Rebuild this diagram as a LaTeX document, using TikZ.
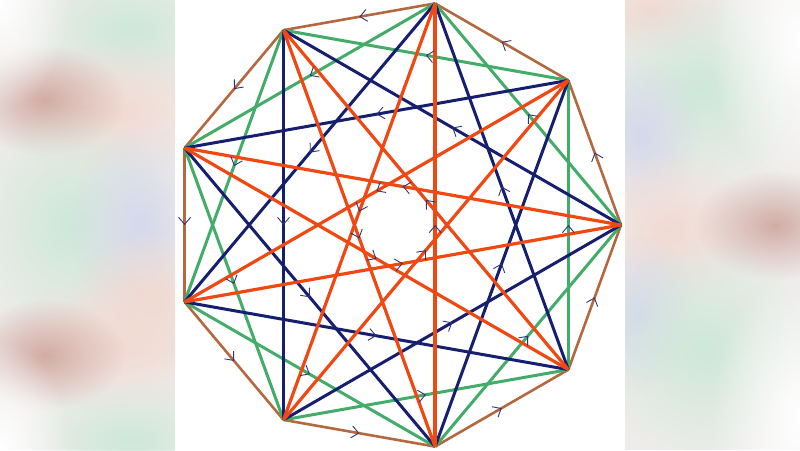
\documentclass[tikz,border=0pt]{standalone}
\usetikzlibrary{arrows.meta,decorations.markings,fadings}
\definecolor{cbrown}{RGB}{180,104,64}
\definecolor{cgreen}{RGB}{66,172,104}
\definecolor{cnavy}{RGB}{22,30,112}
\definecolor{corange}{RGB}{240,72,18}
\definecolor{carrow}{RGB}{45,52,125}
\definecolor{pbase}{RGB}{238,236,234}
\definecolor{pdark}{RGB}{210,172,165}
\definecolor{ppink}{RGB}{242,218,210}
\definecolor{pgreen}{RGB}{206,232,216}
\definecolor{plav}{RGB}{214,216,236}
\tikzfading[name=blobfade, inner color=transparent!0, outer color=transparent!100]
\begin{document}
\begin{tikzpicture}[x=1pt,y=-1pt,
  blob/.style={fill=#1, path fading=blobfade},
  edge1/.style={draw=cbrown, line width=2.6pt},
  edge2/.style={draw=cgreen, line width=3pt},
  edge3/.style={draw=cnavy, line width=3pt},
  edge4/.style={draw=corange, line width=3.2pt},
  midarr/.style={postaction={decorate}, decoration={markings,
     mark=at position 0.5 with {\arrow{Straight Barb[length=7pt,width=12pt,line width=0.9pt,color=carrow]}}}}]
\useasboundingbox (0,0) rectangle (800,450);
% left blurred panel
\begin{scope}
\clip (0,0) rectangle (175,450);
\fill[pbase] (0,0) rectangle (175,450);
\fill[blob=pgreen] (130,30) ellipse (110pt and 70pt);
\fill[blob=ppink] (115,110) ellipse (120pt and 70pt);
\fill[blob=pdark] (45,100) ellipse (80pt and 55pt);
\fill[blob=pgreen] (70,225) ellipse (100pt and 120pt);
\fill[blob=plav] (140,225) ellipse (70pt and 100pt);
\fill[blob=ppink] (150,300) ellipse (80pt and 70pt);
\fill[blob=ppink] (115,345) ellipse (120pt and 70pt);
\fill[blob=pdark] (45,355) ellipse (80pt and 55pt);
\fill[blob=pgreen] (130,440) ellipse (110pt and 60pt);
\fill[blob=white] (0,0) ellipse (70pt and 110pt);
\fill[blob=white] (0,450) ellipse (70pt and 110pt);
\end{scope}
% right blurred panel
\begin{scope}
\clip (625,0) rectangle (800,450);
\fill[pbase] (625,0) rectangle (800,450);
\fill[blob=ppink] (650,10) ellipse (80pt and 50pt);
\fill[blob=pgreen] (700,90) ellipse (110pt and 100pt);
\fill[blob=plav] (640,135) ellipse (60pt and 80pt);
\fill[blob=ppink] (670,230) ellipse (90pt and 80pt);
\fill[blob=pdark] (775,225) ellipse (80pt and 55pt);
\fill[blob=plav] (640,315) ellipse (60pt and 80pt);
\fill[blob=pgreen] (705,350) ellipse (110pt and 110pt);
\fill[blob=white] (800,40) ellipse (90pt and 150pt);
\fill[blob=white] (800,420) ellipse (90pt and 150pt);
\end{scope}
% vertices of the nonagon
\foreach \k in {0,...,8}
  \coordinate (v\k) at ({396+225*cos(40*\k)},{225-225*sin(40*\k)});
% chords
\foreach \s in {1,2,3,4}{
  \foreach \k in {0,...,8}{
    \pgfmathtruncatemacro\j{mod(\k+\s,9)}
    \path[edge\s] (v\k) -- (v\j);
  }
}
% direction marks
\foreach \s in {1,2,3,4}{
  \foreach \k in {0,...,8}{
    \pgfmathtruncatemacro\j{mod(\k+\s,9)}
    \path[midarr] (v\k) -- (v\j);
  }
}
\end{tikzpicture}
\end{document}
